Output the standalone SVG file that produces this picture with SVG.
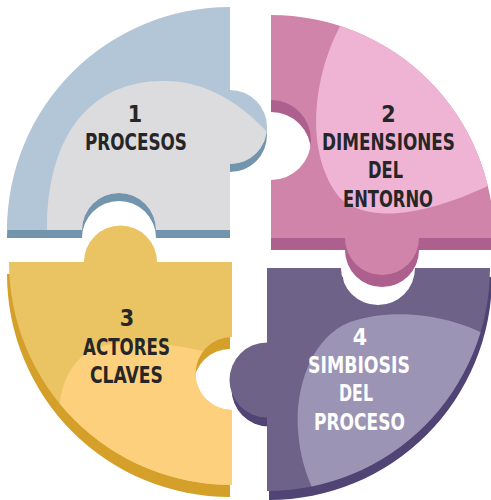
<svg xmlns="http://www.w3.org/2000/svg" xmlns:xlink="http://www.w3.org/1999/xlink" width="491" height="500" viewBox="0 0 491 500">
<style>
.t{font-family:"Liberation Sans Narrow","DejaVu Sans Condensed","Liberation Sans",sans-serif;font-weight:700;font-size:23px;text-anchor:middle;fill:#262626}
.w{fill:#ffffff}
</style>
<defs>
<path id="p1" d="M7,230 A223,223 0 0 1 230,7 L230,90 A37,37 0 0 1 230,164 L230,230 L156,230 A37,37 0 0 0 82,230 Z"/>
<path id="p2" d="M271,15 A223,223 0 0 1 494,238 L419,238 A37,37 0 0 1 345,238 L271,238 L271,180 A40,40 0 0 0 271,100 Z"/>
<path id="p3" d="M9,262 L84,262 A36.5,36.5 0 0 1 157,262 L232,262 L232,337 A36.5,36.5 0 0 0 232,410 L232,485 A223,223 0 0 1 9,262 Z"/>
<path id="p4" d="M267,268 L341,268 A37,37 0 0 0 415,268 L490,268 A223,223 0 0 1 267,491 L267,417.5 A37.5,37.5 0 0 1 267,342.5 Z"/>
<clipPath id="c1"><use href="#p1"/></clipPath>
<clipPath id="c2"><use href="#p2"/></clipPath>
<clipPath id="c3"><use href="#p3"/></clipPath>
<clipPath id="c4"><use href="#p4"/></clipPath>
</defs>
<rect width="491" height="500" fill="#ffffff"/>
<g id="node1">
<use href="#p1" transform="translate(0,8)" fill="#7394ad"/>
<use href="#p1" fill="#b3c6d7"/>
<path clip-path="url(#c1)" fill="#dcdcdf" d="M47,240 L47,230 C47,130 95,80 165,81 C205,81 245,103 278,145 L280,240 Z"/>
<text class="t" x="135" y="122">1</text>
<text class="t" x="136" y="150" textLength="102" lengthAdjust="spacingAndGlyphs">PROCESOS</text>
</g>
<g id="node2">
<use href="#p2" transform="translate(0,12)" fill="#ad5f8d"/>
<use href="#p2" fill="#d184aa"/>
<path clip-path="url(#c2)" fill="#efb3d4" d="M350,10 C315,60 300,150 340,198 C370,225 430,215 500,180 L500,10 Z"/>
<text class="t" x="388.5" y="122">2</text>
<text class="t" x="388.5" y="150" textLength="133" lengthAdjust="spacingAndGlyphs">DIMENSIONES</text>
<text class="t" x="385.5" y="178" textLength="35" lengthAdjust="spacingAndGlyphs">DEL</text>
<text class="t" x="388" y="207" textLength="90" lengthAdjust="spacingAndGlyphs">ENTORNO</text>
</g>
<g id="node3">
<use href="#p3" transform="translate(-2,12)" fill="#d4a02a"/>
<use href="#p3" fill="#eac463"/>
<path clip-path="url(#c3)" fill="#fcd07c" d="M60,430 C55,390 70,345 120,343 C160,341 200,348 240,362 L240,500 L60,500 Z"/>
<text class="t" x="127" y="326">3</text>
<text class="t" x="126.5" y="355" textLength="87" lengthAdjust="spacingAndGlyphs">ACTORES</text>
<text class="t" x="126.5" y="383" textLength="73" lengthAdjust="spacingAndGlyphs">CLAVES</text>
</g>
<g id="node4">
<use href="#p4" transform="translate(2,9)" fill="#4f4474"/>
<use href="#p4" fill="#6e6288"/>
<path clip-path="url(#c4)" fill="#9b94b5" d="M495,340 C460,318 400,305 350,322 C310,338 295,390 298,430 C300,460 308,480 318,500 L500,500 Z"/>
<text class="t w" x="360" y="345">4</text>
<text class="t w" x="359" y="373" textLength="102" lengthAdjust="spacingAndGlyphs">SIMBIOSIS</text>
<text class="t w" x="356" y="401" textLength="34" lengthAdjust="spacingAndGlyphs">DEL</text>
<text class="t w" x="359.5" y="430" textLength="91" lengthAdjust="spacingAndGlyphs">PROCESO</text>
</g>
</svg>
